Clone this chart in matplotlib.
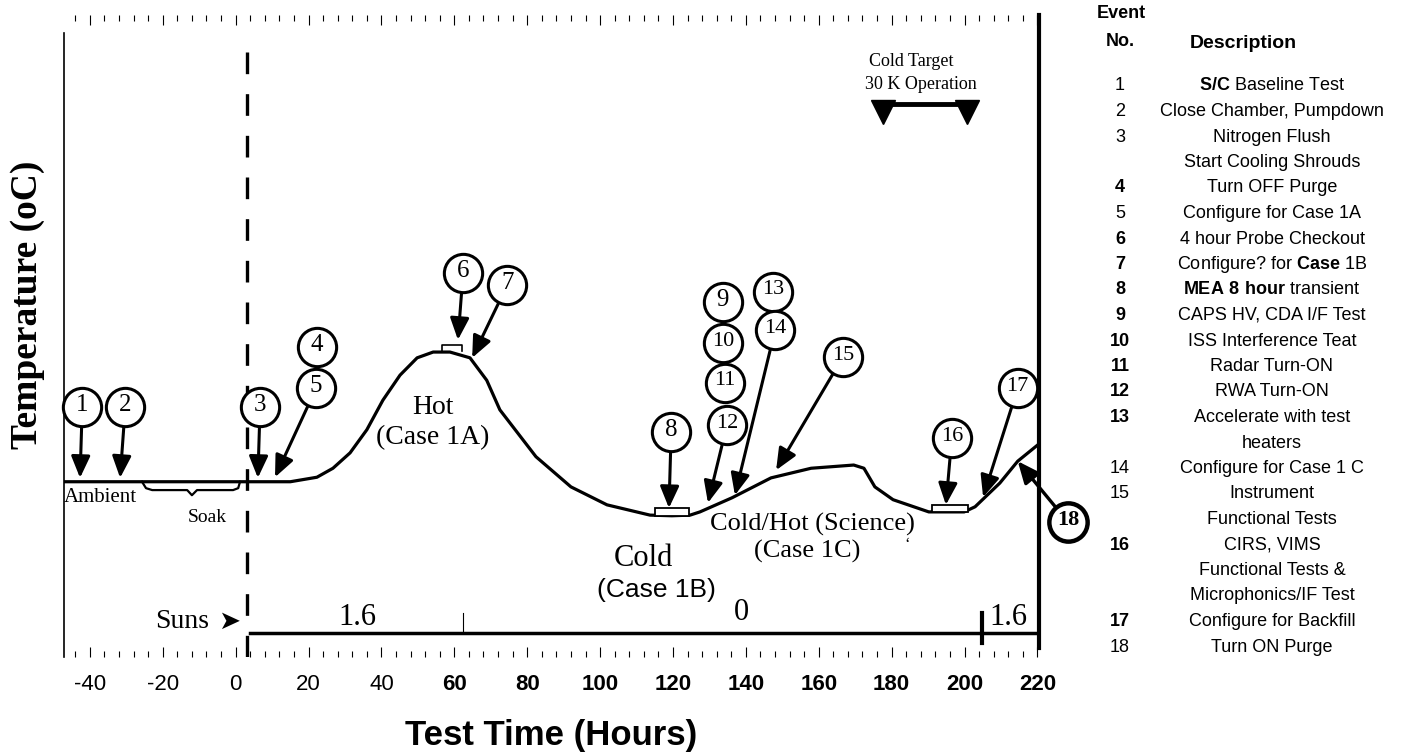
import matplotlib.pyplot as plt
from matplotlib.patches import Rectangle
from matplotlib.ticker import MultipleLocator

plt.rcParams['font.family'] = ['Liberation Sans', 'DejaVu Sans']
plt.rcParams['mathtext.fontset'] = 'custom'
plt.rcParams['mathtext.rm'] = 'Liberation Sans'
plt.rcParams['mathtext.bf'] = 'Liberation Sans:bold'

SERIF = ['Liberation Serif', 'DejaVu Serif']

# temperature profile (hours, arbitrary temperature units 0-100)
hours = [-47.1, 15.0, 22.3, 26.7, 31.4, 36.0, 40.4, 45.1, 49.8, 54.2, 58.8, 64.3,
         68.9, 72.5, 82.4, 92.0, 101.9, 113.7, 119.7, 124.7, 127.4, 136.2, 146.9,
         157.9, 169.6, 172.4, 175.4, 180.4, 190.2, 199.9, 202.9, 209.7, 214.6, 219.8]
temp = [27.3, 27.3, 28.0, 29.4, 31.8, 35.4, 40.0, 43.9, 46.6, 47.5, 47.5, 46.6,
        43.1, 38.5, 31.2, 26.5, 23.7, 22.1, 22.0, 22.1, 22.6, 24.8, 27.9,
        29.4, 29.9, 29.4, 26.5, 24.5, 22.6, 22.6, 23.4, 27.1, 30.5, 32.9]

# event callouts: circle centre and arrow tip on the curve (None = no arrow)
event_ids = ['1', '2', '3', '4', '5', '6', '7', '8', '9', '10', '11', '12',
             '13', '14', '15', '16', '17', '18']
event_h = [-42.1, -30.3, 6.7, 22.3, 22.1, 62.4, 74.5, 119.5, 133.7, 133.7, 134.2,
           134.8, 147.4, 148.0, 166.6, 196.5, 214.6, 228.4]
event_y = [38.9, 38.9, 38.9, 48.3, 41.9, 59.8, 57.9, 35.0, 55.3, 48.9, 42.7,
           36.1, 56.9, 50.9, 46.7, 34.1, 41.9, 21.0]
tip_h = [-42.7, -31.7, 6.1, None, 10.8, 61.0, 64.9, 118.9, None, None, None,
         129.6, None, 137.0, 148.3, 194.9, 205.1, 214.6]
tip_y = [27.9, 27.9, 27.9, None, 28.0, 49.4, 46.6, 23.2, None, None, None,
         24.0, None, 25.2, 29.1, 23.7, 24.9, 30.5]

# test windows marked on the curve (start, end, bottom, top)
windows = [(115.1, 124.4, 22.0, 23.2), (191.1, 200.9, 22.6, 23.7)]
probe_h = [56.6, 56.6, 62.1, 62.1]
probe_y = [47.7, 48.6, 48.6, 47.7]
brace_h = [-25.7, -24.6, -22.9, -13.3, -12.0, -10.6, -0.7, 0.7, 1.2]
brace_y = [27.3, 26.3, 26.0, 26.0, 25.2, 26.0, 26.0, 26.3, 27.3]

# solar intensity bar
suns_start, suns_end, suns_level = 4.0, 220.3, 3.74
suns_breaks = [62.4, 204.8]
sun_zero_h = 3.0
cold_target = [177.6, 200.7]

ticks = list(range(-40, 221, 20))

# event table
table_no = ['1', '2', '3', '', '4', '5', '6', '7', '8', '9', '10', '11', '12', '13', '',
            '14', '15', '', '16', '', '', '17', '18']
table_desc = [r'$\bf{S/C}$ Baseline Test', 'Close Chamber, Pumpdown', 'Nitrogen Flush',
              'Start Cooling Shrouds', 'Turn OFF Purge', 'Configure for Case 1A',
              '4 hour Probe Checkout', r'Configure? for $\bf{Case}$ 1B',
              r'$\bf{MEA\ 8\ hour}$ transient', 'CAPS HV, CDA I/F Test',
              'ISS Interference Teat', 'Radar Turn-ON', 'RWA Turn-ON',
              'Accelerate with test', 'heaters', 'Configure for Case 1 C', 'Instrument',
              'Functional Tests', 'CIRS, VIMS', 'Functional Tests &',
              'Microphonics/IF Test', 'Configure for Backfill', 'Turn ON Purge']
bold_no = {'4', '6', '7', '8', '9', '10', '11', '12', '13', '16', '17'}

W, H = 1407, 754
fig = plt.figure(figsize=(W / 100, H / 100), dpi=100)
ax = fig.add_axes([64 / W, 97 / H, 974.5 / W, 642 / H])
ax.set_xlim(-47.1, 220.3)
ax.set_ylim(0, 100)

# frame
ax.spines['top'].set_visible(False)
ax.spines['bottom'].set_visible(False)
ax.spines['left'].set_bounds(0, 97.2)
ax.spines['left'].set_linewidth(1.2)
ax.spines['right'].set_bounds(1.4, 100)
ax.spines['right'].set_linewidth(3)
ax.set_yticks([])
ax.set_xticks(ticks)
ax.set_xticklabels([str(t) for t in ticks])
ax.xaxis.set_minor_locator(MultipleLocator(4))
ax.tick_params(axis='x', which='both', direction='in', top=True, labelsize=16, pad=12,
               width=0.8)
ax.tick_params(axis='x', which='major', length=7)
ax.tick_params(axis='x', which='minor', length=4)
for t, lbl in zip(ticks, ax.get_xticklabels()):
    if t >= 60:
        lbl.set_fontweight('bold')

# profile
ax.plot(hours, temp, color='black', lw=2.3, solid_joinstyle='round', zorder=3)
ax.axvline(sun_zero_h, ymax=0.961, color='black', lw=2.4, linestyle=(0, (6.5, 6)))

for x0, x1, y0, y1 in windows:
    ax.add_patch(Rectangle((x0, y0), x1 - x0, y1 - y0, facecolor='white',
                           edgecolor='black', lw=1.3, zorder=4))
ax.plot(probe_h, probe_y, color='black', lw=1.2)
ax.plot(brace_h, brace_y, color='black', lw=1.6)

# callouts
for i, lab in enumerate(event_ids):
    big = lab == '18'
    if tip_h[i] is not None:
        arr = ax.annotate('', xy=(tip_h[i], tip_y[i]), xytext=(event_h[i], event_y[i]),
                          arrowprops=dict(arrowstyle='-|>,head_length=0.55,head_width=0.24',
                                          mutation_scale=24, lw=2.4 if big else 2.2,
                                          color='black', shrinkA=13, shrinkB=0),
                          zorder=3, annotation_clip=False)
        arr.arrow_patch.set_clip_on(False)
    ax.scatter(event_h[i], event_y[i], s=760, facecolor='white', edgecolor='black',
               lw=3.2 if big else 2.2, zorder=5, clip_on=False)
    ax.text(event_h[i], event_y[i] + 0.3, lab, ha='center', va='center', family=SERIF,
            fontsize=18 if len(lab) == 1 else 16, fontweight='bold' if big else 'normal',
            zorder=6)

# annotations on the plot
ax.text(-37.2, 24.9, 'Ambient', ha='center', va='center', family=SERIF, fontsize=15)
ax.text(-7.8, 21.7, 'Soak', ha='center', va='center', family=SERIF, fontsize=14)
ax.text(54.2, 38.9, 'Hot', ha='center', va='center', family=SERIF, fontsize=20)
ax.text(54.2, 34.1, '(Case 1A)', ha='center', va='center', family=SERIF, fontsize=20)
ax.text(111.8, 15.4, 'Cold', ha='center', va='center', family=SERIF, fontsize=22)
ax.text(115.6, 10.4, '(Case 1B)', ha='center', va='center', fontsize=19)
ax.text(158.4, 20.6, 'Cold/Hot (Science)', ha='center', va='center', family=SERIF,
        fontsize=19)
ax.text(156.8, 16.4, '(Case 1C)', ha='center', va='center', family=SERIF, fontsize=19)
ax.text(184.2, 17.4, '\u2018', ha='center', va='center', family=SERIF, fontsize=12)

# cold target window
ax.text(185.3, 92.7, 'Cold Target', ha='center', va='center', family=SERIF, fontsize=13)
ax.text(188.0, 89.1, '30 K Operation', ha='center', va='center', family=SERIF, fontsize=13)
ax.plot(cold_target, [86.1, 86.1], color='black', lw=3.5)
ax.plot(cold_target, [84.9, 84.9], 'v', color='black', ms=17, ls='none')

# suns bar
ax.plot([suns_start, suns_end], [suns_level, suns_level], color='black', lw=2.5)
ax.plot([suns_breaks[0]] * 2, [suns_level, 6.85], color='black', lw=0.8)
ax.plot([suns_breaks[1]] * 2, [2.18, 6.85], color='black', lw=3)
ax.text(-14.7, 5.5, 'Suns', ha='center', va='center', family=SERIF, fontsize=20)
ax.text(-1.8, 5.5, '\u27a4', ha='center', va='center', family='DejaVu Sans', fontsize=19)
ax.text(33.3, 6.1, '1.6', ha='center', va='center', family=SERIF, fontsize=22)
ax.text(138.7, 6.9, '0', ha='center', va='center', family=SERIF, fontsize=22)
ax.text(211.9, 6.2, '1.6', ha='center', va='center', family=SERIF, fontsize=22)

# axis titles
fig.text(28 / W, 1 - 305 / H, 'Temperature (oC)', rotation=90, ha='center', va='center',
         family=SERIF, fontweight='bold', fontsize=27)
fig.text(551 / W, 1 - 735 / H, 'Test Time (Hours)', ha='center', va='center',
         fontweight='bold', fontsize=25)

# event table
fig.text(1121 / W, 1 - 13 / H, 'Event', ha='center', va='center', fontweight='bold',
         fontsize=13)
fig.text(1120 / W, 1 - 41 / H, 'No.', ha='center', va='center', fontweight='bold',
         fontsize=13)
fig.text(1243 / W, 1 - 43 / H, 'Description', ha='center', va='center', fontweight='bold',
         fontsize=14)
for i, (no, desc) in enumerate(zip(table_no, table_desc)):
    y = 1 - (86 + 25.5 * i) / H
    fig.text(1120 / W, y, no, ha='center', va='center', fontsize=13,
             fontweight='bold' if no in bold_no else 'normal')
    fig.text(1272 / W, y, desc, ha='center', va='center', fontsize=13)

fig.savefig('out.png', dpi=100)
